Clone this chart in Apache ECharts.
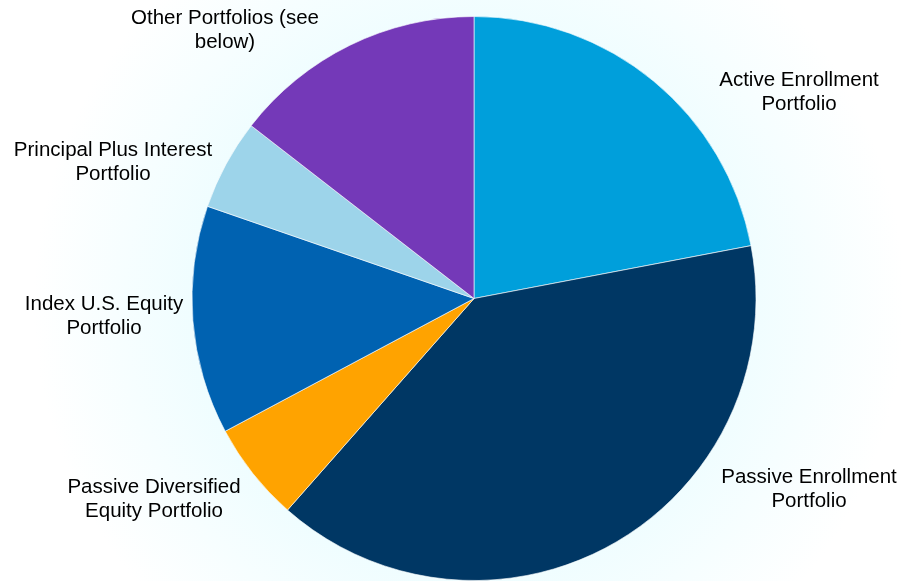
<!DOCTYPE html>
<html>
<head>
<meta charset="utf-8">
<script src="https://cdn.jsdelivr.net/npm/echarts@6/dist/echarts.min.js"></script>
<style>
  html, body { margin: 0; padding: 0; }
  #chart { width: 902px; height: 581px; }
</style>
</head>
<body>
<div id="chart"></div>
<script>
// Portfolio allocation, clockwise from 12 o'clock
const portfolios = [
  'Active Enrollment\nPortfolio',
  'Passive Enrollment\nPortfolio',
  'Passive Diversified\nEquity Portfolio',
  'Index U.S. Equity\nPortfolio',
  'Principal Plus Interest\nPortfolio',
  'Other Portfolios (see\nbelow)'
];
const shares = [22.0, 39.5, 5.7, 13.1, 5.2, 14.5];
const sliceColors = ['#009fdb', '#003764', '#ffa300', '#0062b1', '#9dd4ea', '#7439b8'];

// label anchor points (centre of each text block)
const labelSpots = [
  [799, 92], [809, 489], [154, 499], [104, 316], [113, 162], [225, 30]
];

const chart = echarts.init(document.getElementById('chart'));
chart.setOption({
  backgroundColor: {
    type: 'radial', x: 0.52, y: 0.52, r: 0.75,
    colorStops: [
      { offset: 0, color: '#e4fcff' },
      { offset: 0.6, color: '#eefdff' },
      { offset: 1, color: '#ffffff' }
    ]
  },
  animation: false,
  series: [{
    type: 'pie',
    center: [474, 298.5],
    radius: [0, 282],
    startAngle: 90,
    clockwise: true,
    avoidLabelOverlap: false,
    itemStyle: { borderColor: '#ffffff', borderWidth: 0.6 },
    label: {
      show: true,
      position: 'outside',
      color: '#000000',
      fontFamily: 'Liberation Sans, Arial, sans-serif',
      fontSize: 20.5,
      lineHeight: 24,
      align: 'center',
      formatter: p => p.name
    },
    labelLine: { show: false },
    labelLayout: p => ({
      x: labelSpots[p.dataIndex][0],
      y: labelSpots[p.dataIndex][1],
      align: 'center',
      verticalAlign: 'middle'
    }),
    data: portfolios.map((n, i) => ({
      name: n, value: shares[i], itemStyle: { color: sliceColors[i] }
    }))
  }]
});
</script>
</body>
</html>
